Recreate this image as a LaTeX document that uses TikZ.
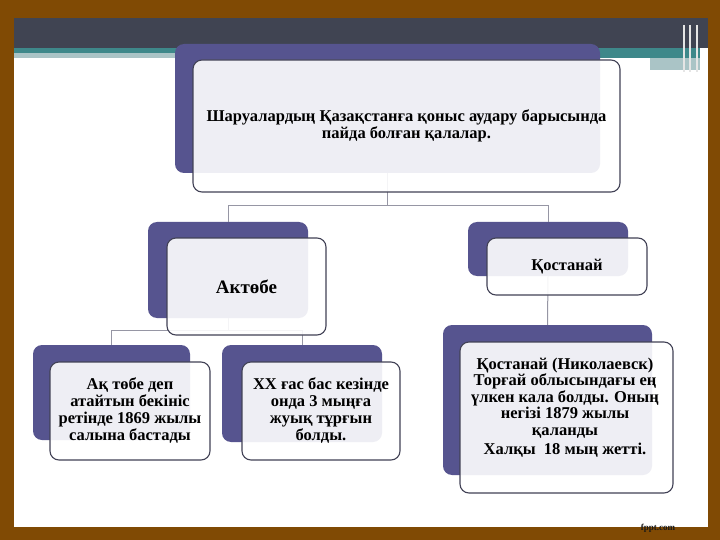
\documentclass[tikz,border=0pt]{standalone}
\usepackage{fontspec}
\setmainfont{Liberation Serif}
\usetikzlibrary{positioning,calc}
\definecolor{framebrown}{RGB}{128,74,4}
\definecolor{headdark}{RGB}{64,68,82}
\definecolor{headteal}{RGB}{62,136,138}
\definecolor{headlight}{RGB}{170,196,198}
\definecolor{cardpurple}{RGB}{86,84,143}
\definecolor{cardedge}{RGB}{66,66,86}
\definecolor{linkgrey}{RGB}{150,150,164}
\tikzset{
    cardback/.style={fill=cardpurple, rounded corners=9pt, inner sep=0pt},
    cardfront/.style={draw=cardedge, line width=1.1pt, fill=white, fill opacity=0.9,
        text opacity=1, rounded corners=9pt, align=center, inner sep=0pt,
        font=\fontsize{16.5}{17}\selectfont\bfseries},
    treelink/.style={draw=linkgrey, line width=1pt}
}

\begin{document}
\begin{tikzpicture}[x=1pt, y=-1pt]
\useasboundingbox (0,0) rectangle (720,540);
% frame and header
\fill[framebrown] (0,0) rectangle (720,540);
\fill[white] (14,18) rectangle (708,527);
\fill[headdark] (14,18) rectangle (708,48);
\fill[headteal] (14,48) rectangle (700,58);
\fill[headlight] (14,53) rectangle (175,58);
\fill[headlight] (650,58) rectangle (700,70);
\foreach \xx in {684,690,697} \draw[white!80!gray, line width=1.5pt] (\xx,25) -- (\xx,72);
\node[font=\fontsize{9}{9}\selectfont\bfseries, text=black!90] (mark) at (658,528) {fppt.com};

% back cards
\node[cardback, minimum width=425, minimum height=129] (topback) at (387.5,108.5) {};
\node[cardback, minimum width=160, minimum height=96] (aktback) at (228,270) {};
\node[cardback, minimum width=160, minimum height=54] (qostback) at (548,249) {};
\node[cardback, minimum width=157, minimum height=95] (fortback) at (111.5,392.5) {};
\node[cardback, minimum width=160, minimum height=97] (popback) at (302,393.5) {};
\node[cardback, minimum width=209, minimum height=150] (nikback) at (547.5,400) {};

% links
\draw[treelink] (topback.south) -- ++(0,32) -| (aktback.north);
\draw[treelink] (topback.south) -- ++(0,32) -| (qostback.north);
\draw[treelink] (aktback.south) -- ++(0,12) -| (fortback.north);
\draw[treelink] (aktback.south) -- ++(0,12) -| (popback.north);
\draw[treelink] (qostback.south) -- (nikback.north);

% front cards
\node[cardfront, minimum width=427, minimum height=132] (top) at (406.5,126)
    {Шаруалардың Қазақстанға қоныс аудару барысында\\пайда болған қалалар.};
\node[cardfront, minimum width=159, minimum height=97, font=\fontsize{19}{20}\selectfont\bfseries]
    (akt) at (246.5,286.5) {Актөбе};
\node[cardfront, minimum width=160, minimum height=57] (qost) at (567,266.5) {Қостанай};
\node[cardfront, minimum width=160, minimum height=98] (fort) at (130,411)
    {Ақ төбе деп\\атайтын бекініс\\ретінде 1869 жылы\\салына бастады};
\node[cardfront, minimum width=158, minimum height=98] (pop) at (321,411)
    {ХХ ғас бас кезінде\\онда 3 мыңға\\жуық тұрғын\\болды.};
\node[cardfront, minimum width=213, minimum height=151] (nik) at (566.5,417.5) {};
\node[font=\fontsize{16.5}{16.5}\selectfont\bfseries, align=center] (niktext) at (565,407.5)
    {Қостанай (Николаевск)\\Торғай облысындағы ең\\үлкен кала болды. Оның\\негізі 1879 жылы\\қаланды\\[3pt]Халқы~ 18 мың жетті.};
\end{tikzpicture}
\end{document}
